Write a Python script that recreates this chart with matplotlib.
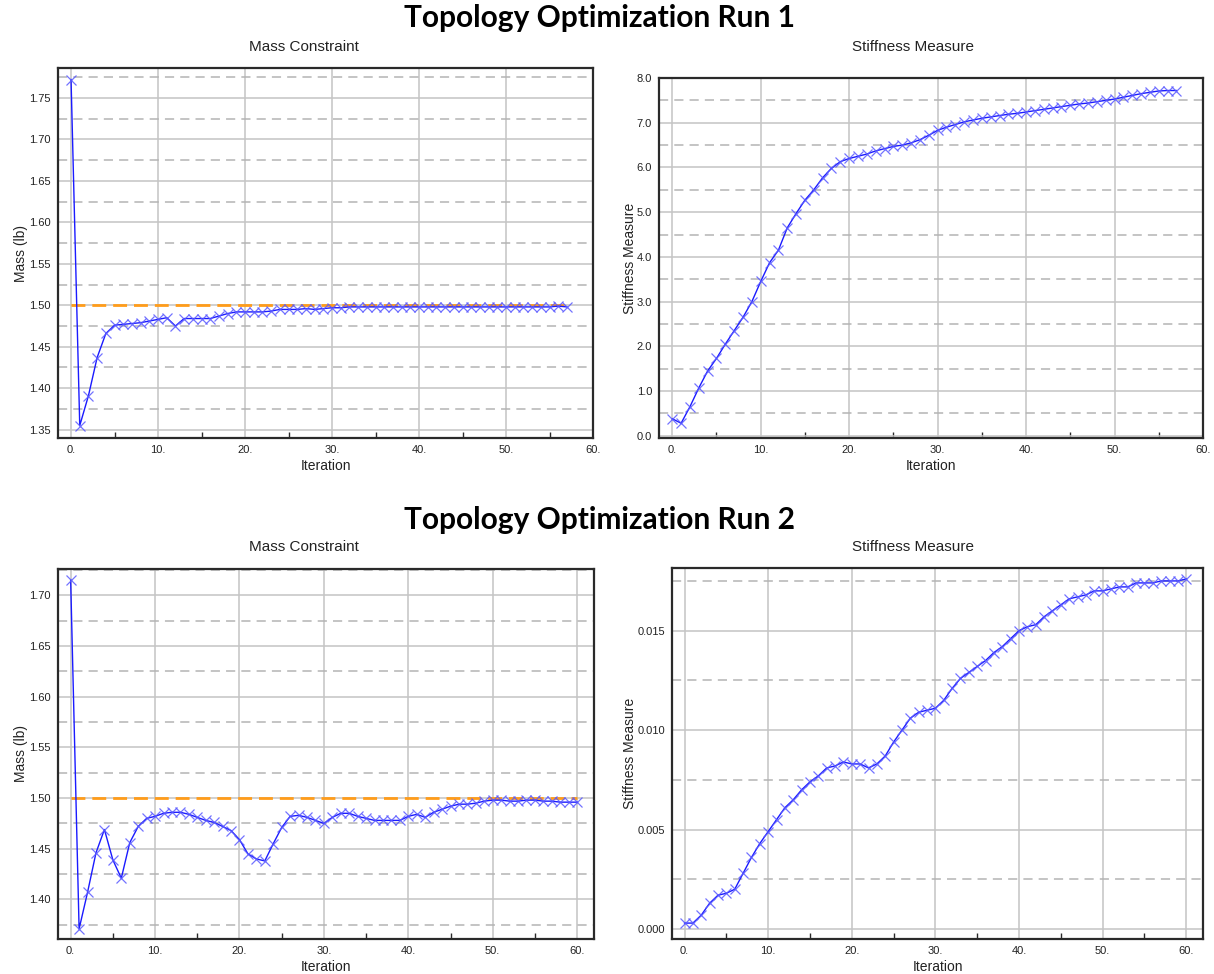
import matplotlib
matplotlib.use("Agg")
import matplotlib.pyplot as plt
from matplotlib.ticker import MultipleLocator, FuncFormatter, FormatStrFormatter

# ---- Run 1 data ----
run1_mass = [1.772, 1.355, 1.391, 1.437, 1.466, 1.476, 1.477, 1.478, 1.479, 1.481,
             1.483, 1.485, 1.475, 1.484, 1.484, 1.484, 1.484, 1.487, 1.490, 1.492,
             1.492, 1.492, 1.492, 1.493, 1.495, 1.495, 1.495, 1.496, 1.495, 1.496,
             1.497, 1.497, 1.498, 1.498, 1.498, 1.498, 1.498, 1.498, 1.498, 1.498,
             1.498, 1.498, 1.498, 1.498, 1.498, 1.498, 1.498, 1.498, 1.498, 1.498,
             1.498, 1.498, 1.498, 1.498, 1.498, 1.498, 1.499, 1.498]
run1_stiff = [0.38, 0.28, 0.65, 1.07, 1.45, 1.73, 2.05, 2.35, 2.65, 3.00,
              3.45, 3.87, 4.15, 4.65, 4.97, 5.27, 5.50, 5.77, 5.98, 6.13,
              6.20, 6.25, 6.30, 6.37, 6.42, 6.47, 6.50, 6.55, 6.62, 6.72,
              6.83, 6.90, 6.96, 7.02, 7.06, 7.10, 7.13, 7.16, 7.19, 7.21,
              7.24, 7.27, 7.30, 7.33, 7.36, 7.39, 7.42, 7.44, 7.47, 7.50,
              7.53, 7.57, 7.61, 7.65, 7.68, 7.71, 7.72, 7.72]

# ---- Run 2 data ----
run2_mass = [1.715, 1.371, 1.407, 1.446, 1.469, 1.439, 1.421, 1.456, 1.472, 1.480,
             1.482, 1.485, 1.486, 1.486, 1.484, 1.481, 1.478, 1.476, 1.472, 1.468,
             1.459, 1.445, 1.440, 1.438, 1.455, 1.471, 1.482, 1.483, 1.481, 1.478,
             1.475, 1.481, 1.485, 1.485, 1.482, 1.480, 1.478, 1.478, 1.478, 1.478,
             1.482, 1.484, 1.481, 1.486, 1.489, 1.492, 1.494, 1.494, 1.495, 1.497,
             1.498, 1.498, 1.497, 1.497, 1.498, 1.498, 1.497, 1.497, 1.496, 1.496,
             1.496]
run2_stiff = [0.0003, 0.0003, 0.0007, 0.0013, 0.0017, 0.0018, 0.0020, 0.0028, 0.0036, 0.0043,
              0.0049, 0.0055, 0.0061, 0.0065, 0.0070, 0.0074, 0.0077, 0.0081, 0.0082, 0.0084,
              0.0083, 0.0083, 0.0081, 0.0083, 0.0087, 0.0094, 0.0100, 0.0106, 0.0109, 0.0110,
              0.0111, 0.0115, 0.0121, 0.0126, 0.0129, 0.0132, 0.0135, 0.0139, 0.0142, 0.0146,
              0.0150, 0.0152, 0.0153, 0.0157, 0.0160, 0.0163, 0.0166, 0.0167, 0.0168, 0.0170,
              0.0170, 0.0171, 0.0172, 0.0172, 0.0174, 0.0174, 0.0174, 0.0175, 0.0175, 0.0175,
              0.0176]

mass_limit = 1.50

run_titles = ["Topology Optimization Run 1", "Topology Optimization Run 2"]
panel_titles = ["Mass Constraint", "Stiffness Measure"]
x_label = "Iteration"
mass_label = "Mass (lb)"
stiff_label = "Stiffness Measure"

LINE_C = "#1a1aff"
MARK_C = "#5a5aff"
LIMIT_C = "#ff9c1a"
GRID_C = "#c4c4c4"
DASH_C = "#b4b4b4"
SPINE_C = "#2a2a2a"
SANS = ["Liberation Sans", "DejaVu Sans"]

plt.rcParams["font.family"] = SANS

fig = plt.figure(figsize=(12.14, 9.74), dpi=100)
W, H = 1214, 974


def px_axes(left, top, right, bottom):
    return fig.add_axes([left / W, (H - bottom) / H, (right - left) / W, (bottom - top) / H])


def style(ax, xlim, ylim, ymajor, yminor, yfmt, ylabel, labelpad):
    ax.set_xlim(*xlim)
    ax.set_ylim(*ylim)
    ax.xaxis.set_major_locator(MultipleLocator(10))
    ax.xaxis.set_minor_locator(MultipleLocator(5))
    ax.xaxis.set_major_formatter(FuncFormatter(lambda v, p: f"{int(round(v))}."))
    ax.yaxis.set_major_locator(MultipleLocator(ymajor))
    ax.yaxis.set_minor_locator(MultipleLocator(yminor))
    ax.yaxis.set_major_formatter(FormatStrFormatter(yfmt))
    ax.tick_params(axis="both", which="major", length=0, labelsize=8,
                   labelcolor="#222222", pad=5)
    ax.tick_params(axis="x", which="minor", direction="in", length=4,
                   width=1, color=SPINE_C)
    ax.tick_params(axis="y", which="minor", length=0)
    ax.grid(which="major", color=GRID_C, lw=1.1, ls="-", zorder=0)
    ax.grid(which="minor", axis="y", color=DASH_C, lw=1.1, ls=(0, (6, 4)), zorder=0)
    ax.set_axisbelow(True)
    for s in ax.spines.values():
        s.set_color(SPINE_C)
        s.set_linewidth(1.6)
    ax.set_xlabel(x_label, fontsize=10, labelpad=3, color="#222222")
    ax.set_ylabel(ylabel, fontsize=10, labelpad=labelpad, color="#222222")


def plot_series(ax, values):
    it = list(range(len(values)))
    ax.plot(it, values, color=LINE_C, lw=1.0, zorder=3)
    ax.plot(it, values, ls="none", marker="x", ms=7.5, mew=0.9,
            color=MARK_C, alpha=0.85, zorder=4)


def mass_panel(ax, values):
    it = list(range(len(values)))
    ax.plot([it[0], it[-1]], [mass_limit, mass_limit], color=LIMIT_C,
            lw=2.0, ls=(0, (5, 2.5)), zorder=2)
    plot_series(ax, values)


# Run 1
ax1 = px_axes(58, 68, 593, 438)
mass_panel(ax1, run1_mass)
style(ax1, (-1.5, 60), (1.340, 1.786), 0.05, 0.025, "%.2f", mass_label, 1)

ax2 = px_axes(659, 78, 1203, 438)
plot_series(ax2, run1_stiff)
style(ax2, (-1.5, 60), (-0.05, 8.0), 1.0, 0.5, "%.1f", stiff_label, 0)

# Run 2
ax3 = px_axes(58, 569, 594, 939)
mass_panel(ax3, run2_mass)
style(ax3, (-1.5, 62), (1.361, 1.726), 0.05, 0.025, "%.2f", mass_label, 1)

ax4 = px_axes(672, 568, 1203, 939)
plot_series(ax4, run2_stiff)
style(ax4, (-1.5, 62), (-0.0005, 0.01815), 0.005, 0.0025, "%.3f", stiff_label, 0)

# Headings
for ytop, title in zip([18, 520], run_titles):
    fig.text(600 / W, 1 - ytop / H, title, ha="center", va="center",
             fontsize=21.5, fontweight="bold", family=["Lato", "DejaVu Sans"])
for ytop in [47, 547]:
    fig.text(304 / W, 1 - ytop / H, panel_titles[0], ha="center", va="center",
             fontsize=11, color="#222222")
    fig.text(913 / W, 1 - ytop / H, panel_titles[1], ha="center", va="center",
             fontsize=11, color="#222222")

fig.savefig("out.png", dpi=100, facecolor="white")
